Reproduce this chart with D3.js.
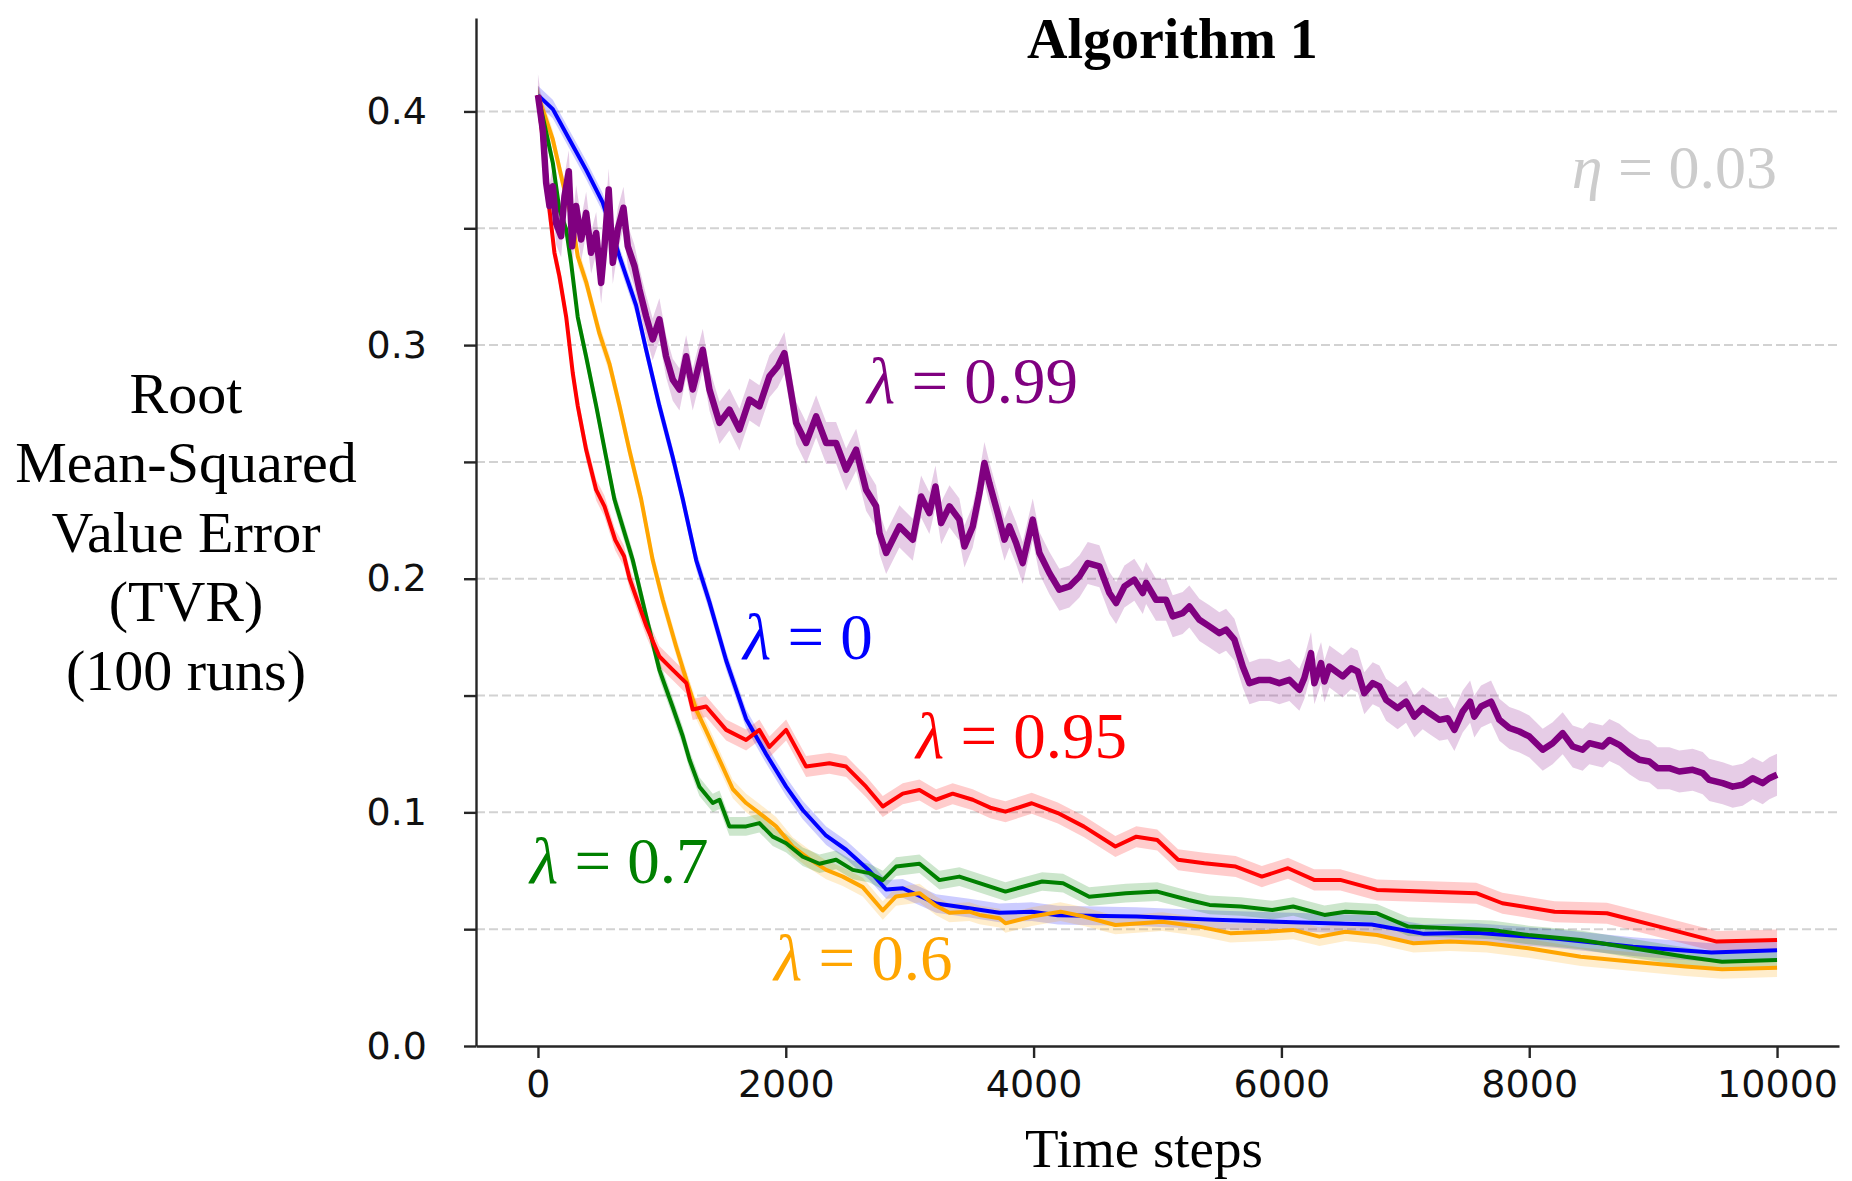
<!DOCTYPE html>
<html>
<head>
<meta charset="utf-8">
<script src="https://cdn.jsdelivr.net/npm/d3@7"></script>
<style>
  html, body { margin: 0; padding: 0; background: #fff; }
  svg { display: block; }
</style>
</head>
<body>
<svg id="chart" width="1852" height="1181"></svg>
<script>
// RMSVE curves (mean over 100 runs), one [time step, error] list per λ
const lambda0 = [[0,0.407],[120,0.401],[254,0.388],[389,0.375],[523,0.361],[658,0.338],[792,0.317],[873,0.298],[980,0.274],[1088,0.252],[1169,0.234],[1277,0.208],[1384,0.190],[1519,0.165],[1680,0.140],[1841,0.125],[2003,0.111],[2137,0.101],[2326,0.090],[2487,0.084],[2675,0.075],[2810,0.067],[2944,0.0675],[3213,0.061],[3482,0.059],[3724,0.057],[3985,0.0575],[4196,0.056],[4829,0.0554],[5462,0.054],[6095,0.053],[6728,0.052],[7151,0.048],[7572,0.0485],[8205,0.046],[8838,0.0425],[9471,0.040],[10000,0.041]];

const lambda06 = [[0,0.407],[120,0.388],[200,0.3695],[281,0.352],[321,0.338],[389,0.327],[496,0.305],[577,0.292],[658,0.274],[738,0.255],[833,0.234],[926,0.208],[1007,0.191],[1115,0.171],[1196,0.157],[1277,0.144],[1357,0.135],[1465,0.1225],[1572,0.110],[1680,0.104],[1787,0.0997],[1922,0.094],[2056,0.0854],[2191,0.080],[2326,0.0754],[2460,0.0725],[2621,0.068],[2783,0.058],[2890,0.064],[3079,0.0654],[3213,0.060],[3321,0.057],[3482,0.0575],[3563,0.0561],[3724,0.0547],[3773,0.0525],[3985,0.0554],[4217,0.0575],[4407,0.0554],[4660,0.0518],[5040,0.0532],[5336,0.0511],[5588,0.0483],[5884,0.0489],[6095,0.0497],[6306,0.0468],[6517,0.0489],[6771,0.0475],[7066,0.044],[7361,0.0447],[7656,0.044],[7994,0.0418],[8416,0.0382],[8838,0.0361],[9260,0.034],[9556,0.0328],[10000,0.0335]];

const lambda07 = [[0,0.407],[79,0.388],[120,0.378],[173,0.358],[228,0.3495],[268,0.335],[321,0.312],[389,0.295],[470,0.274],[550,0.252],[617,0.234],[765,0.208],[873,0.184],[980,0.161],[1088,0.145],[1169,0.1325],[1223,0.1225],[1303,0.111],[1411,0.104],[1465,0.1054],[1545,0.094],[1680,0.094],[1787,0.0954],[1895,0.0896],[2003,0.0868],[2137,0.081],[2272,0.078],[2406,0.0797],[2540,0.0754],[2675,0.074],[2783,0.071],[2890,0.0768],[3079,0.078],[3240,0.071],[3401,0.0725],[3563,0.0697],[3773,0.0661],[4069,0.0704],[4238,0.0697],[4449,0.0639],[4744,0.0654],[4998,0.0661],[5251,0.0625],[5420,0.0604],[5673,0.0597],[5926,0.0582],[6095,0.0597],[6348,0.0561],[6517,0.0575],[6771,0.0568],[7024,0.0511],[7361,0.0504],[7698,0.0497],[7994,0.0475],[8416,0.0454],[8838,0.0418],[9260,0.0382],[9556,0.0361],[10000,0.0368]];

const lambda095 = [[0,0.407],[52,0.381],[93,0.358],[133,0.3395],[173,0.3295],[228,0.312],[281,0.288],[321,0.274],[389,0.2552],[470,0.238],[537,0.231],[623,0.2167],[695,0.2096],[740,0.200],[873,0.180],[980,0.1667],[1088,0.161],[1198,0.1553],[1249,0.144],[1357,0.1453],[1519,0.1353],[1680,0.131],[1787,0.1353],[1868,0.128],[2003,0.1353],[2164,0.1196],[2352,0.121],[2487,0.1196],[2648,0.111],[2783,0.1025],[2944,0.108],[3079,0.1096],[3213,0.1054],[3347,0.108],[3509,0.1054],[3650,0.102],[3773,0.1003],[3985,0.1039],[4196,0.0997],[4407,0.0939],[4660,0.0854],[4829,0.0896],[4998,0.0882],[5166,0.0797],[5378,0.0782],[5631,0.0768],[5842,0.0725],[6053,0.0761],[6264,0.0711],[6475,0.0711],[6771,0.0668],[7151,0.0661],[7572,0.0654],[7783,0.0611],[8205,0.0575],[8627,0.0568],[9049,0.0511],[9513,0.0447],[10000,0.0454]];

const lambda099 = [[0,0.407],[39,0.392],[66,0.3695],[93,0.3595],[120,0.368],[147,0.352],[187,0.3466],[214,0.3637],[249,0.3744],[276,0.3423],[308,0.3595],[349,0.3452],[389,0.3566],[429,0.3395],[470,0.348],[510,0.3266],[537,0.3423],[571,0.3666],[604,0.3352],[644,0.3495],[690,0.3588],[725,0.3423],[779,0.3338],[819,0.3238],[873,0.3123],[926,0.3024],[980,0.311],[1034,0.2952],[1088,0.2852],[1142,0.281],[1196,0.2952],[1249,0.281],[1330,0.298],[1384,0.281],[1465,0.2667],[1545,0.2724],[1626,0.2638],[1707,0.2767],[1787,0.2738],[1868,0.2866],[1935,0.2909],[1989,0.2966],[2030,0.2838],[2084,0.2667],[2164,0.2581],[2245,0.2695],[2326,0.2581],[2406,0.2581],[2487,0.2467],[2568,0.2552],[2648,0.2381],[2729,0.231],[2756,0.2196],[2810,0.211],[2917,0.2224],[3025,0.2167],[3092,0.2352],[3159,0.2281],[3208,0.2395],[3254,0.2238],[3321,0.231],[3401,0.2253],[3442,0.2138],[3509,0.2224],[3563,0.2367],[3603,0.2495],[3643,0.241],[3710,0.2281],[3765,0.2167],[3805,0.2224],[3859,0.2153],[3912,0.2067],[3993,0.2253],[4047,0.211],[4128,0.2024],[4208,0.1953],[4289,0.1967],[4370,0.201],[4437,0.2067],[4531,0.2053],[4612,0.1939],[4666,0.1896],[4733,0.1967],[4813,0.1996],[4881,0.1939],[4908,0.1982],[4988,0.191],[5069,0.191],[5123,0.1839],[5203,0.1853],[5257,0.1881],[5338,0.1824],[5419,0.1796],[5499,0.1767],[5553,0.1782],[5621,0.1739],[5688,0.1624],[5742,0.1553],[5822,0.1567],[5903,0.1567],[5983,0.1553],[6064,0.1567],[6145,0.1525],[6185,0.1575],[6239,0.1682],[6266,0.1553],[6320,0.1639],[6347,0.156],[6387,0.1624],[6495,0.1582],[6562,0.1617],[6616,0.1603],[6669,0.151],[6737,0.1553],[6791,0.1539],[6845,0.1482],[6938,0.1446],[7006,0.1474],[7073,0.141],[7140,0.1446],[7194,0.1425],[7275,0.1396],[7342,0.1403],[7396,0.1353],[7463,0.1432],[7523,0.1474],[7557,0.141],[7611,0.1453],[7692,0.1474],[7759,0.1396],[7840,0.1361],[7921,0.1346],[8001,0.1325],[8109,0.1268],[8189,0.1296],[8270,0.1339],[8351,0.1282],[8431,0.1268],[8485,0.1296],[8593,0.1282],[8647,0.131],[8727,0.1289],[8808,0.1253],[8889,0.1225],[8969,0.1218],[9036,0.1189],[9131,0.1189],[9211,0.1175],[9319,0.1182],[9400,0.1168],[9453,0.1139],[9561,0.1125],[9642,0.111],[9722,0.1118],[9803,0.1146],[9884,0.1125],[9938,0.1146],[10000,0.1161]];

// series meta: drawing order, colour, label text and half-width of the shaded spread
const seriesNames  = ["λ = 0", "λ = 0.6", "λ = 0.7", "λ = 0.95", "λ = 0.99"];
const seriesValues = ["0", "0.6", "0.7", "0.95", "0.99"];
const seriesData   = [lambda0, lambda06, lambda07, lambda095, lambda099];
const seriesColors = ["#0000ff", "#ffa500", "#008000", "#ff0000", "#800080"];
const seriesSpread = [0.004, 0.004, 0.004, 0.0045, 0.009];

const xTicks = [0, 2000, 4000, 6000, 8000, 10000];
const yTicks = [0, 0.05, 0.1, 0.15, 0.2, 0.25, 0.3, 0.35, 0.4];
const yLabelLines = ["Root", "Mean-Squared", "Value Error", "(TVR)", "(100 runs)"];

const svg = d3.select("#chart");
const plot = { left: 476, right: 1839, top: 18, bottom: 1046 };

const x = d3.scaleLinear().domain([-500, 10500]).range([plot.left, plot.right]);
const y = d3.scaleLinear().domain([0, 0.44]).range([plot.bottom, plot.top]);

// dashed horizontal grid
svg.append("g").selectAll("line")
  .data(yTicks.filter(d => d > 0))
  .join("line")
  .attr("x1", plot.left).attr("x2", plot.right)
  .attr("y1", d => y(d)).attr("y2", d => y(d))
  .attr("stroke", "#d2d2d2").attr("stroke-width", 2)
  .attr("stroke-dasharray", "9,4");

// shaded spread + mean line for each λ
const area = w => d3.area()
  .x(d => x(d[0])).y0(d => y(d[1] - w)).y1(d => y(d[1] + w));
const line = d3.line().x(d => x(d[0])).y(d => y(d[1]));

const curves = svg.append("g");
seriesData.forEach((data, i) => {
  curves.append("path")
    .attr("d", area(seriesSpread[i])(data))
    .attr("fill", seriesColors[i]).attr("fill-opacity", 0.2);
});
seriesData.forEach((data, i) => {
  curves.append("path")
    .attr("d", line(data))
    .attr("fill", "none")
    .attr("stroke", seriesColors[i])
    .attr("stroke-width", i === 4 ? 6.5 : 4)
    .attr("stroke-linejoin", "round");
});

// axes
const axisFont = "'DejaVu Sans', sans-serif";
const yAxis = svg.append("g")
  .attr("transform", `translate(${plot.left},0)`)
  .call(d3.axisLeft(y)
    .tickValues(yTicks)
    .tickSize(12).tickSizeOuter(0).tickPadding(37)
    .tickFormat(d => (Math.round(d * 100) % 10 === 0) ? d3.format(".1f")(d) : ""));
const xAxis = svg.append("g")
  .attr("transform", `translate(0,${plot.bottom})`)
  .call(d3.axisBottom(x)
    .tickValues(xTicks)
    .tickSize(12).tickSizeOuter(0).tickPadding(12)
    .tickFormat(d3.format("d")));

[yAxis, xAxis].forEach(g => {
  g.select(".domain").attr("stroke", "#262626").attr("stroke-width", 2.4);
  g.selectAll(".tick line").attr("stroke", "#262626").attr("stroke-width", 2.4);
  g.selectAll(".tick text")
    .attr("font-family", axisFont).attr("font-size", 38).attr("fill", "#111");
});

// titles
const serif = "'Liberation Serif', 'Times New Roman', serif";
svg.append("text")
  .attr("x", 1027).attr("y", 58)
  .attr("font-family", serif).attr("font-weight", "bold").attr("font-size", 56)
  .text("Algorithm 1");

svg.append("text")
  .attr("x", 1144).attr("y", 1167).attr("text-anchor", "middle")
  .attr("font-family", serif).attr("font-size", 55)
  .text("Time steps");

svg.append("g").selectAll("text")
  .data(yLabelLines)
  .join("text")
  .attr("x", 186).attr("y", (d, i) => 413 + i * 69.3)
  .attr("text-anchor", "middle")
  .attr("font-family", serif).attr("font-size", 58).attr("fill", "#000")
  .text(d => d);

// in-plot labels for each λ
const labelPos = [[743, 659], [774, 980], [530, 883], [916, 758], [867, 403]];
seriesNames.forEach((name, i) => {
  const t = svg.append("text")
    .attr("x", labelPos[i][0]).attr("y", labelPos[i][1])
    .attr("font-family", serif).attr("font-size", 65)
    .attr("fill", seriesColors[i]);
  t.append("tspan").attr("font-style", "italic").text("λ");
  t.append("tspan").text(" = " + seriesValues[i]);
});

// step size annotation
const eta = svg.append("text")
  .attr("x", x(10000)).attr("y", 188).attr("text-anchor", "end")
  .attr("font-family", serif).attr("font-size", 62).attr("fill", "#cccccc");
eta.append("tspan").attr("font-style", "italic").text("η");
eta.append("tspan").text(" = 0.03");
</script>
</body>
</html>
